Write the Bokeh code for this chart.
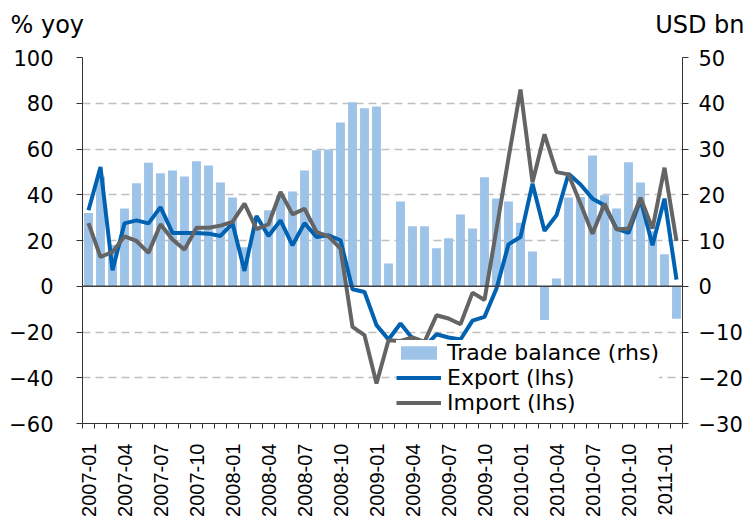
import math
from bokeh.plotting import figure
from bokeh.layouts import column
from bokeh.models import (LinearAxis, Range1d, FixedTicker, Span, Legend, LegendItem,
                          ColumnDataSource)
from bokeh.core.properties import value
from bokeh.embed import file_html
from bokeh.resources import INLINE

# ---------------- data ----------------
years = [2007, 2008, 2009, 2010, 2011]
months = [f"{y}-{m:02d}" for y in years for m in range(1, 13)][:50]   # 2007-01 .. 2011-02

trade_balance = [16, 24, 9, 17, 22.5, 27, 24.7, 25.3, 24, 27.3, 26.4, 22.7,
                 19.4, 8.5, 13, 16.6, 19.9, 20.7, 25.3, 29.7, 29.9, 35.8, 40.2, 38.9,
                 39.3, 5.0, 18.5, 13.1, 13.1, 8.3, 10.5, 15.7, 12.6, 23.8, 19.2, 18.5,
                 13.9, 7.6, -7.4, 1.7, 19.4, 19.5, 28.6, 19.9, 17.0, 27.1, 22.7, 12,
                 7, -7.1]
export = [33.2, 52.1, 7.0, 27.5, 28.8, 27.5, 34.6, 23.3, 23.3, 23.3, 23.0, 22.0,
          27.5, 6.7, 30.7, 22.0, 28.8, 17.9, 27.6, 21.5, 22.3, 20.1, -1.3, -2.5,
          -17.0, -23.3, -16.3, -22.8, -26.5, -21.0, -22.4, -23.3, -15.0, -13.4, -1.0, 18.3,
          21.5, 44.8, 24.2, 31.0, 49.2, 44.5, 38.3, 35.4, 25.2, 23.3, 37.9, 17.9,
          38.3, 2.9]
imports = [27.6, 12.8, 15.0, 21.8, 19.8, 14.6, 27.1, 20.4, 16.0, 25.6, 25.6, 26.5,
           28.1, 36.1, 25.0, 27.1, 41.2, 31.4, 33.9, 23.7, 21.8, 16.5, -17.8, -21.4,
           -42.5, -23.6, -23.9, -22.4, -24.3, -12.7, -14.1, -16.6, -2.8, -6.0, 25, 56,
           86, 45.5, 66.4, 49.9, 48.9, 36.1, 23.0, 36.1, 24.8, 25.2, 38.7, 25.2,
           51.8, 19.8]
left_ticks = [-60, -40, -20, 0, 20, 40, 60, 80, 100]
right_ticks = [-30, -20, -10, 0, 10, 20, 30, 40, 50]
left_title = "% yoy"
right_title = "USD bn"
label_every = 3

FONT = "DejaVu Sans"
W = 745

# ---------------- title strip ----------------
top = figure(width=W, height=40, output_backend="svg", toolbar_location=None,
             x_range=Range1d(0, W), y_range=Range1d(0, 40),
             x_axis_type=None, y_axis_type=None, min_border=0)
top.frame_align = False
top.outline_line_color = None
top.xgrid.visible = False
top.ygrid.visible = False
top.text(x=[10], y=[16], text=[left_title], text_align="left", text_baseline="alphabetic",
         text_font=value(FONT), text_font_size="24px", text_color="black")
top.text(x=[W - 1], y=[16], text=[right_title], text_align="right", text_baseline="alphabetic",
         text_font=value(FONT), text_font_size="24px", text_color="black")

# ---------------- main figure ----------------
n = len(months)
xs = list(range(n))
src = ColumnDataSource(dict(x=xs, tb=trade_balance, ex=export, im=imports))

p = figure(width=W, height=488, output_backend="svg", toolbar_location=None,
           x_range=Range1d(-0.5, n - 0.5), y_range=Range1d(-60, 100),
           min_border_left=82, min_border_right=58, min_border_top=17, min_border_bottom=105)
p.frame_align = False
p.outline_line_color = None
p.background_fill_color = "white"
p.extra_y_ranges = {"rhs": Range1d(-30, 50)}

# x axis
xa = p.xaxis[0]
xa.ticker = FixedTicker(ticks=xs[::label_every],
                        minor_ticks=[i - 0.5 for i in range(n + 1)])
xa.major_label_overrides = {i: months[i] for i in xs[::label_every]}
xa.major_label_orientation = math.pi / 2
xa.major_label_text_font = "Liberation Sans"
xa.major_label_text_font_size = "20px"
xa.major_label_text_color = "black"
xa.major_tick_line_color = None
xa.major_tick_out = 5
xa.major_tick_in = 0
xa.minor_tick_out = 5
xa.minor_tick_in = 0
xa.minor_tick_line_color = "#333333"
xa.axis_line_color = "#333333"
xa.major_label_standoff = 15

# left axis
ya = p.yaxis[0]
ya.ticker = FixedTicker(ticks=left_ticks)
ya.major_label_text_font = FONT
ya.major_label_text_font_size = "21px"
ya.major_label_text_color = "black"
ya.major_tick_out = 6
ya.major_tick_in = 0
ya.minor_tick_line_color = None
ya.axis_line_color = "#333333"
ya.major_tick_line_color = "#333333"
ya.major_label_standoff = 23

# right axis
ra = LinearAxis(y_range_name="rhs", ticker=FixedTicker(ticks=right_ticks))
ra.major_label_text_font = FONT
ra.major_label_text_font_size = "21px"
ra.major_label_text_color = "black"
ra.major_tick_out = 6
ra.major_tick_in = 0
ra.minor_tick_line_color = None
ra.axis_line_color = "#333333"
ra.major_tick_line_color = "#333333"
ra.major_label_standoff = 10
p.add_layout(ra, "right")

# grid
p.xgrid.visible = False
p.ygrid.ticker = FixedTicker(ticks=[t for t in left_ticks if t not in (0, -60)])
p.ygrid.grid_line_color = "#bfbfbf"
p.ygrid.grid_line_dash = "8 5"
p.ygrid.grid_line_width = 1.5

# bars
bars = p.vbar(x="x", top="tb", bottom=0, width=0.74, source=src, y_range_name="rhs",
              fill_color="#9dc3e9", line_color=None)

zero = Span(location=0, dimension="width", line_color="#404040", line_width=1.5, level="glyph")
p.add_layout(zero)

l_ex = p.line("x", "ex", source=src, line_color="#0062b1", line_width=4)
l_im = p.line("x", "im", source=src, line_color="#646464", line_width=4)

legend = Legend(items=[LegendItem(label="Trade balance (rhs)", renderers=[bars]),
                       LegendItem(label="Export (lhs)", renderers=[l_ex]),
                       LegendItem(label="Import (lhs)", renderers=[l_im])],
                location=(314, 8), orientation="vertical")
legend.label_text_font = FONT
legend.label_text_font_size = "22px"
legend.label_text_color = "black"
legend.label_height = 17
legend.glyph_height = 17
legend.glyph_width = 45
legend.spacing = 0
legend.padding = 2
legend.margin = 0
legend.label_standoff = 6
legend.border_line_color = None
legend.background_fill_color = "white"
legend.background_fill_alpha = 1.0
p.add_layout(legend, "center")

layout = column(top, p, spacing=0)
open("out.html", "w").write(file_html(layout, INLINE))
